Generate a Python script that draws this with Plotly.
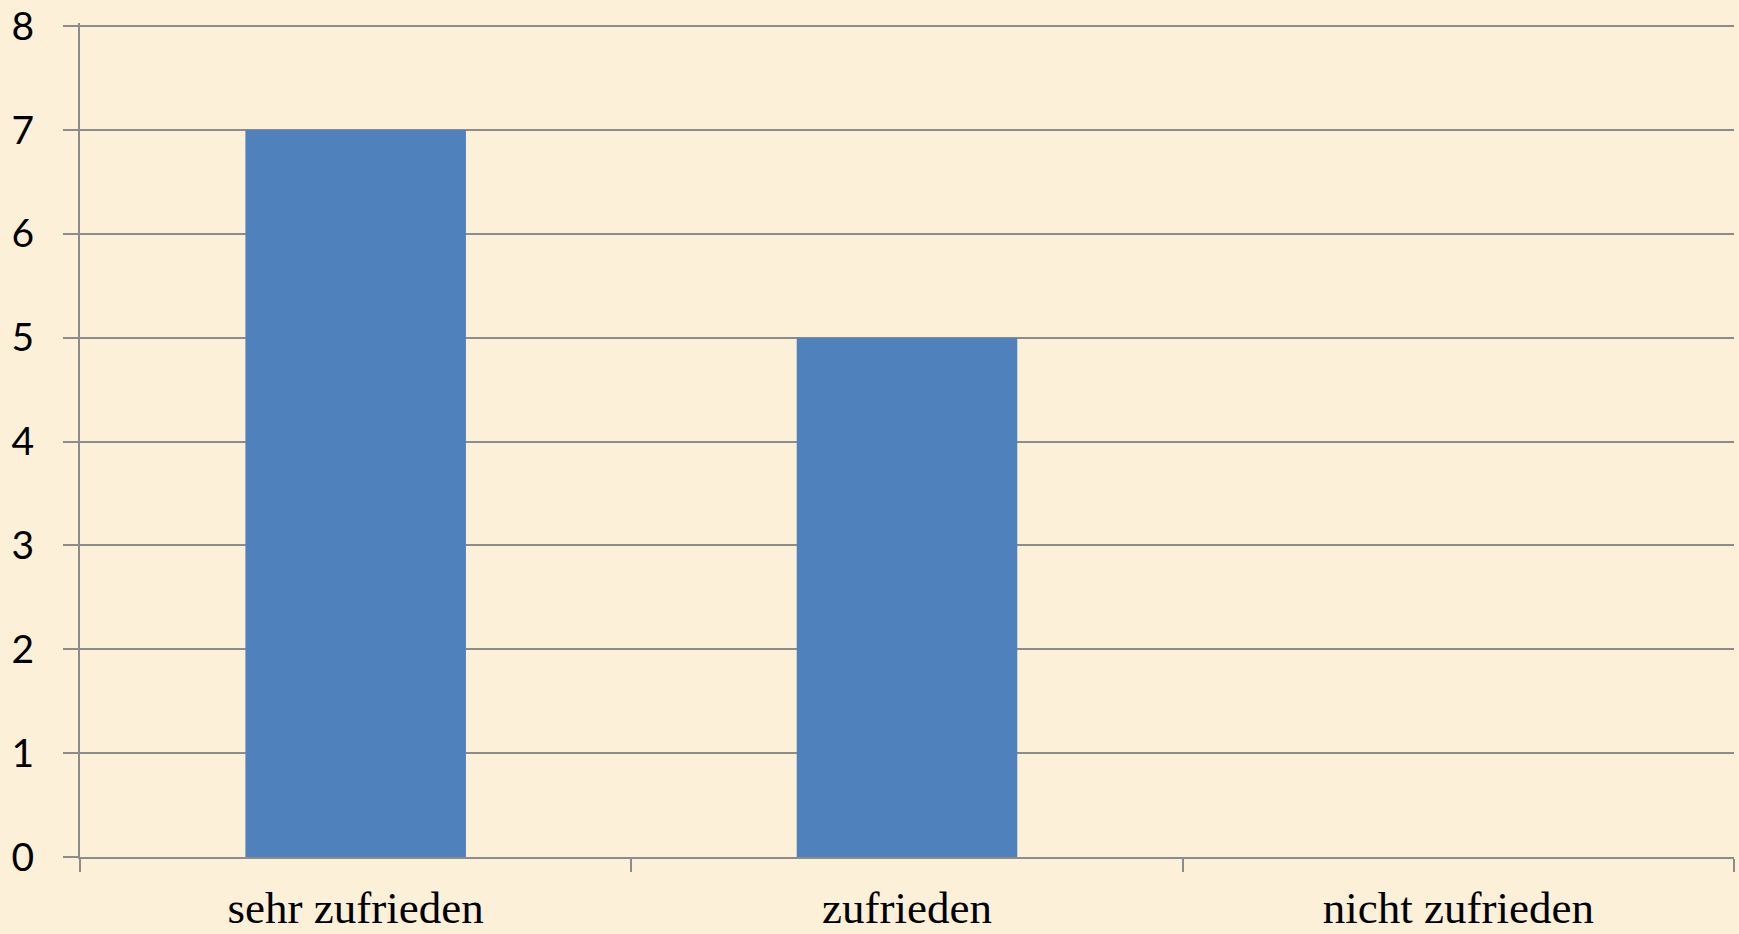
import plotly.graph_objects as go

categories = ["sehr zufrieden", "zufrieden", "nicht zufrieden"]
values = [7, 5, 0]
y_ticks = [0, 1, 2, 3, 4, 5, 6, 7, 8]

bg = "#FCF0D8"
grid = "#8C8C8C"

fig = go.Figure(
    go.Bar(
        x=categories,
        y=values,
        marker=dict(color="#4F81BD", line=dict(width=0)),
        width=0.4,
    )
)

fig.update_layout(
    width=1739,
    height=934,
    paper_bgcolor=bg,
    plot_bgcolor=bg,
    margin=dict(l=80, r=5, t=23, b=77, autoexpand=False),
    showlegend=False,
    bargap=0.6,
)

fig.update_xaxes(
    showline=True,
    linecolor=grid,
    linewidth=2,
    ticks="outside",
    tickson="boundaries",
    ticklen=13,
    tickwidth=2,
    tickcolor=grid,
    showgrid=False,
    automargin=False,
    ticklabeloverflow="allow",
    tickfont=dict(family="Liberation Serif", size=45, color="#000000"),
    ticklabelstandoff=10,
)

fig.update_yaxes(
    range=[0, 8.03],
    tickvals=y_ticks,
    showline=True,
    linecolor=grid,
    linewidth=2,
    ticks="outside",
    ticklen=15,
    tickwidth=2,
    tickcolor=grid,
    showgrid=True,
    gridcolor=grid,
    gridwidth=2,
    zeroline=False,
    automargin=False,
    ticklabeloverflow="allow",
    tickfont=dict(family="Lato", size=39, color="#000000"),
    ticklabelstandoff=21,
)

fig.write_html("out.html", config={"displayModeBar": False})

with open("out.html", encoding="utf-8") as f:
    html = f.read()
html = html.replace("<body>", "<body style=\"margin:0;padding:0;overflow:hidden;background:%s\">" % bg, 1)
with open("out.html", "w", encoding="utf-8") as f:
    f.write(html)
